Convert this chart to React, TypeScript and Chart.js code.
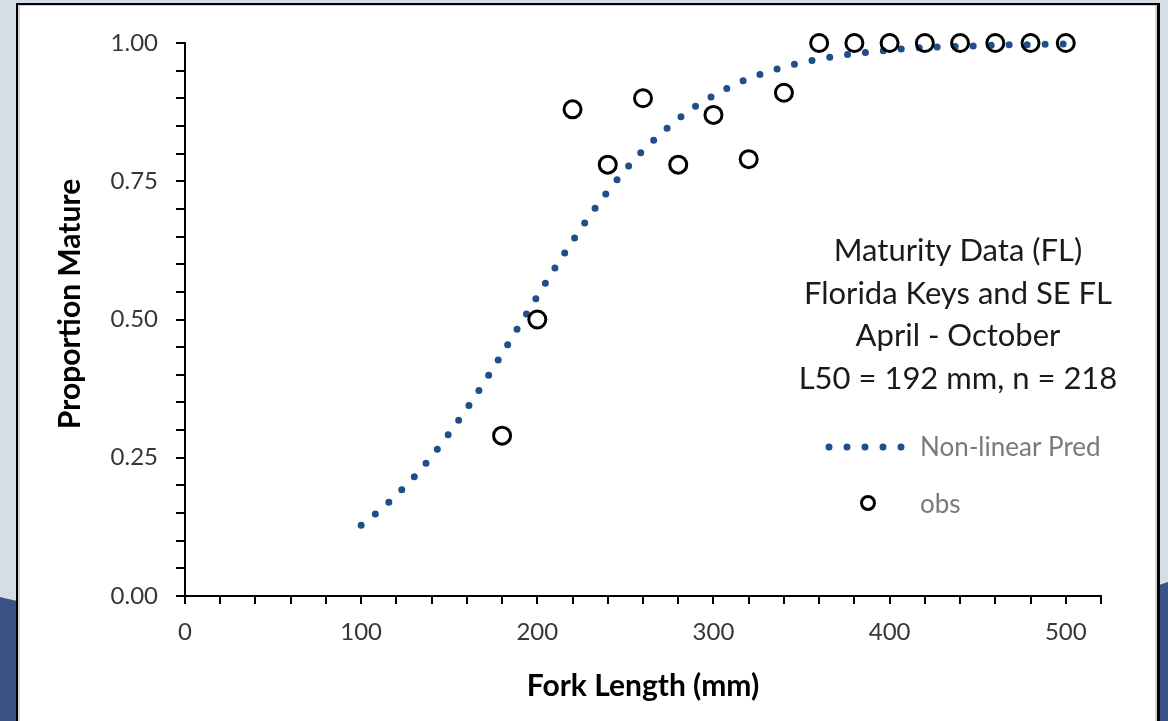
import React, { useEffect, useRef } from 'react';
import { Chart, registerables } from 'chart.js';

Chart.register(...registerables);

// ---- data ----
const predLengths = [
  100, 110, 120, 130, 140, 150, 160, 170, 180, 190,
  200, 210, 220, 230, 240, 250, 260, 270, 280, 290,
  300, 310, 320, 330, 340, 350, 360, 370, 380, 390,
  400, 410, 420, 430, 440, 450, 460, 470, 480, 490, 500,
];
const predProportion = [
  0.128, 0.153, 0.182, 0.215, 0.252, 0.294, 0.339, 0.387, 0.438, 0.49,
  0.542, 0.593, 0.642, 0.689, 0.732, 0.771, 0.806, 0.836, 0.863, 0.886,
  0.905, 0.922, 0.936, 0.947, 0.957, 0.965, 0.971, 0.976, 0.981, 0.984,
  0.987, 0.99, 0.992, 0.993, 0.994, 0.995, 0.996, 0.997, 0.997, 0.998, 0.998,
];
const obsLengths = [180, 200, 220, 240, 260, 280, 300, 320, 340, 360, 380, 400, 420, 440, 460, 480, 500];
const obsProportion = [0.29, 0.5, 0.88, 0.78, 0.9, 0.78, 0.87, 0.79, 0.91, 1, 1, 1, 1, 1, 1, 1, 1];

const xLabeledTicks = [0, 100, 200, 300, 400, 500];
const yLabeledTicks = ['0.00', '0.25', '0.50', '0.75', '1.00'];

const annotationLines = ['Maturity Data (FL)', 'Florida Keys and SE FL', 'April - October', 'L50 = 192 mm, n = 218'];
const legendLabels = ['Non-linear Pred', 'obs'];

const FONT = "Lato, 'Open Sans', sans-serif";
const PRED_COLOR = '#1f4e89';

const decorPlugin = {
  id: 'decor',
  beforeDraw(chart: any) {
    const ctx = chart.ctx as CanvasRenderingContext2D;
    const W = chart.width;
    const H = chart.height;
    ctx.save();
    ctx.fillStyle = '#d5dde6';
    ctx.fillRect(0, 0, W, H);
    // dark blue slide shapes
    ctx.fillStyle = '#3b5286';
    ctx.beginPath();
    ctx.moveTo(0, 597);
    ctx.lineTo(17, 601);
    ctx.lineTo(17, H);
    ctx.lineTo(0, H);
    ctx.closePath();
    ctx.fill();
    ctx.beginPath();
    ctx.moveTo(1159, 585);
    ctx.lineTo(W, 582);
    ctx.lineTo(W, H);
    ctx.lineTo(1159, H);
    ctx.closePath();
    ctx.fill();
    // white panel
    ctx.fillStyle = '#ffffff';
    ctx.fillRect(16, 3, 1144, H);
    ctx.fillStyle = '#000000';
    ctx.fillRect(16, 3, 2, H);
    ctx.fillRect(16, 3, 1144, 2);
    ctx.fillRect(1157, 3, 3, H);
    ctx.fillStyle = '#d4d4d4';
    ctx.fillRect(18, 5, 2, H);
    ctx.fillRect(18, 5, 1139, 1);
    ctx.fillRect(1155, 5, 2, H);
    ctx.restore();
  },
  afterDraw(chart: any) {
    const ctx = chart.ctx as CanvasRenderingContext2D;
    ctx.save();
    // y axis title (rotated)
    ctx.translate(70, 304);
    ctx.rotate(-Math.PI / 2);
    ctx.font = `bold 30px ${FONT}`;
    ctx.fillStyle = '#000000';
    ctx.textAlign = 'center';
    ctx.textBaseline = 'middle';
    ctx.fillText('Proportion Mature', 0, 0);
    ctx.restore();

    // annotation block
    ctx.save();
    ctx.font = `31px ${FONT}`;
    ctx.fillStyle = '#1a1a1a';
    ctx.textAlign = 'center';
    ctx.textBaseline = 'alphabetic';
    annotationLines.forEach((line, i) => {
      ctx.fillText(line, 958, 261 + i * 42.5);
    });
    ctx.restore();

    // legend
    const predDs = chart.data.datasets[1];
    const obsDs = chart.data.datasets[0];
    ctx.save();
    ctx.strokeStyle = predDs.borderColor;
    ctx.lineWidth = predDs.borderWidth;
    ctx.lineCap = 'round';
    ctx.setLineDash(predDs.borderDash);
    ctx.beginPath();
    ctx.moveTo(829, 447);
    ctx.lineTo(906, 447);
    ctx.stroke();
    ctx.setLineDash([]);
    ctx.strokeStyle = obsDs.pointBorderColor;
    ctx.lineWidth = 3;
    ctx.beginPath();
    ctx.arc(868, 503, 6.5, 0, Math.PI * 2);
    ctx.stroke();
    ctx.font = `26px ${FONT}`;
    ctx.fillStyle = '#7a7a7a';
    ctx.textAlign = 'left';
    ctx.textBaseline = 'alphabetic';
    ctx.fillText(legendLabels[0], 920, 456);
    ctx.fillText(legendLabels[1], 920, 513);
    ctx.restore();
  },
};

export default function App() {
  const ref = useRef<HTMLCanvasElement>(null);
  useEffect(() => {
    const canvas = ref.current!;
    const chart = new Chart(canvas, {
      type: 'scatter',
      data: {
        datasets: [
          {
            label: legendLabels[1],
            data: obsLengths.map((x, i) => ({ x, y: obsProportion[i] })),
            pointRadius: 8.5,
            pointBorderWidth: 3,
            pointBorderColor: '#000000',
            pointBackgroundColor: 'rgba(0,0,0,0)',
            borderColor: '#000000',
            backgroundColor: 'rgba(0,0,0,0)',
            showLine: false,
            clip: false,
            order: 0,
          } as any,
          {
            label: legendLabels[0],
            data: predLengths.map((x, i) => ({ x, y: predProportion[i] })),
            showLine: true,
            pointRadius: 0,
            borderColor: PRED_COLOR,
            borderWidth: 7,
            borderDash: [0, 18],
            borderCapStyle: 'round',
            tension: 0,
            fill: false,
            clip: false,
            order: 1,
          } as any,
        ],
      },
      options: {
        responsive: false,
        devicePixelRatio: 1,
        animation: false,
        events: [],
        layout: { padding: { top: 43, right: 67, bottom: 0, left: 0 } },
        plugins: {
          legend: { display: false },
          tooltip: { enabled: false },
          title: { display: false },
        },
        scales: {
          x: {
            type: 'linear',
            min: 0,
            max: 520,
            afterFit: (s: any) => { s.height = 125; },
            border: { color: '#000000', width: 2 },
            grid: { drawOnChartArea: false, drawTicks: true, tickLength: 8, color: '#000000', lineWidth: 2 },
            ticks: {
              stepSize: 20,
              autoSkip: false,
              maxRotation: 0,
              padding: 14,
              color: '#363636',
              font: { family: FONT, size: 24 },
              callback: (v: any) => (xLabeledTicks.includes(Math.round(Number(v))) ? String(Math.round(Number(v))) : ''),
            },
            title: {
              display: true,
              text: 'Fork Length (mm)',
              color: '#000000',
              font: { family: FONT, size: 30, weight: 'bold' },
              padding: { top: 0, bottom: 17 },
            },
          },
          y: {
            type: 'linear',
            min: 0,
            max: 1,
            afterFit: (s: any) => { s.width = 185; },
            border: { color: '#000000', width: 2 },
            grid: { drawOnChartArea: false, drawTicks: true, tickLength: 9, color: '#000000', lineWidth: 2 },
            ticks: {
              stepSize: 0.05,
              autoSkip: false,
              padding: 18,
              color: '#363636',
              font: { family: FONT, size: 24 },
              callback: (v: any) => {
                const s = Number(v).toFixed(2);
                return yLabeledTicks.includes(s) ? s : '';
              },
            },
          },
        },
      },
      plugins: [decorPlugin],
    } as any);
    return () => chart.destroy();
  }, []);
  return (
    <div style={{ position: 'absolute', left: 0, top: 0, width: 1168, height: 721, overflow: 'hidden' }}>
      <canvas ref={ref} width={1168} height={721} style={{ display: 'block', width: 1168, height: 721 }} />
    </div>
  );
}
